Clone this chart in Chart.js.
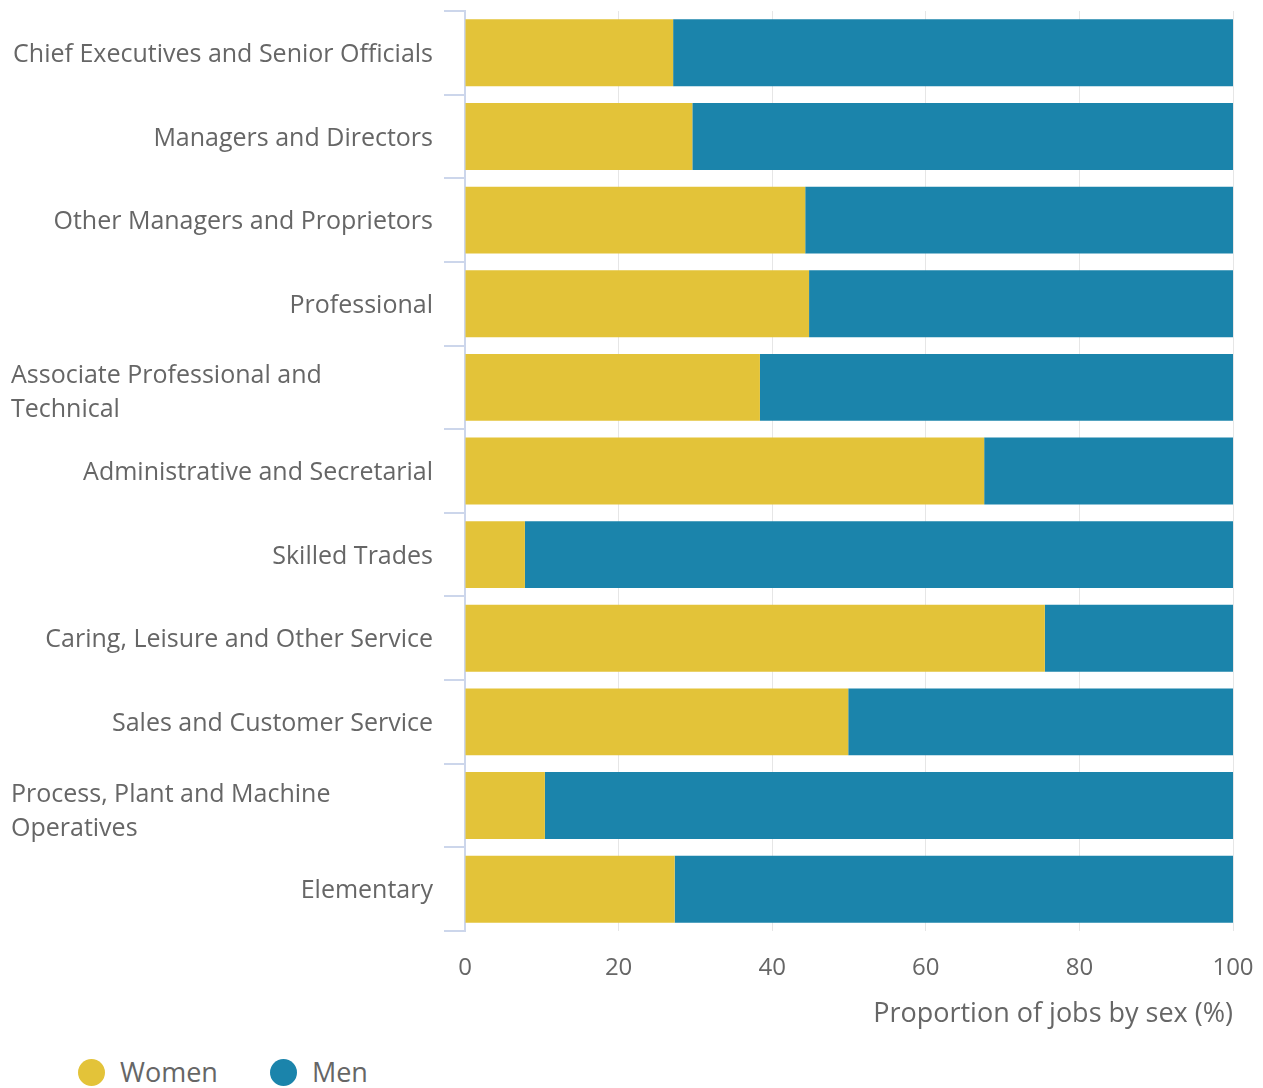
<!DOCTYPE html>
<html>
<head>
<meta charset="utf-8">
<script src="https://cdn.jsdelivr.net/npm/chart.js@4.4.1/dist/chart.umd.min.js"></script>
<style>
  html, body { margin: 0; padding: 0; background: #fff; overflow: hidden; }
  body { width: 1263px; height: 1088px; position: relative; font-family: "Open Sans", sans-serif; }
  #wrap { position: absolute; left: 0; top: 0; width: 1263px; height: 1045px; }
  #legend { position: absolute; left: 78px; top: 1056px; display: flex; align-items: center; }
  .leg-item { display: flex; align-items: center; margin-right: 52px; }
  .leg-dot { width: 27px; height: 27px; border-radius: 50%; margin-right: 15px; }
  .leg-text { font-size: 27px; color: #666; line-height: 32px; }
</style>
</head>
<body>
<div id="wrap"><canvas id="chart"></canvas></div>
<div id="legend"></div>
<script>
// Occupation groups (y axis)
const categories = [
  'Chief Executives and Senior Officials',
  'Managers and Directors',
  'Other Managers and Proprietors',
  'Professional',
  ['Associate Professional and', 'Technical'],
  'Administrative and Secretarial',
  'Skilled Trades',
  'Caring, Leisure and Other Service',
  'Sales and Customer Service',
  ['Process, Plant and Machine', 'Operatives'],
  'Elementary'
];

// Proportion of jobs by sex (%)
const womenShare = [27.1, 29.6, 44.3, 44.8, 38.4, 67.6, 7.8, 75.5, 49.9, 10.4, 27.3];
const menShare   = [72.9, 70.4, 55.7, 55.2, 61.6, 32.4, 92.2, 24.5, 50.1, 89.6, 72.7];

const seriesNames = ['Women', 'Men'];
const seriesColors = ['#e3c339', '#1b84ab'];

const xMin = 0, xMax = 100, xStep = 20;
const xTitle = 'Proportion of jobs by sex (%)';

const textColor = '#666666';
const font = 'Open Sans';

// Category labels drawn next to the axis: one-liners right aligned, wrapped ones left aligned
const categoryLabels = {
  id: 'categoryLabels',
  afterDraw(chart) {
    const y = chart.scales.y;
    const ctx = chart.ctx;
    ctx.save();
    ctx.font = `25px "${font}"`;
    ctx.fillStyle = textColor;
    ctx.textBaseline = 'middle';
    categories.forEach((label, i) => {
      const cy = y.getPixelForTick(i) + 2;
      if (Array.isArray(label)) {
        ctx.textAlign = 'left';
        const lh = 34;
        const start = cy + 4 - (label.length - 1) * lh / 2;
        label.forEach((line, j) => ctx.fillText(line, 11, start + j * lh));
      } else {
        ctx.textAlign = 'right';
        ctx.fillText(label, y.right - 32, cy);
      }
    });
    ctx.restore();
  }
};

const chart = new Chart(document.getElementById('chart'), {
  type: 'bar',
  data: {
    labels: categories,
    datasets: [
      { label: seriesNames[0], data: womenShare, backgroundColor: seriesColors[0] },
      { label: seriesNames[1], data: menShare, backgroundColor: seriesColors[1] }
    ]
  },
  options: {
    indexAxis: 'y',
    responsive: true,
    maintainAspectRatio: false,
    animation: false,
    barPercentage: 0.8,
    categoryPercentage: 1,
    layout: { padding: { left: 0, right: 30, top: 11, bottom: 0 } },
    plugins: {
      legend: { display: false },
      tooltip: { enabled: false }
    },
    scales: {
      x: {
        stacked: true,
        min: xMin,
        max: xMax,
        ticks: {
          stepSize: xStep,
          color: textColor,
          font: { family: font, size: 24 },
          padding: 3
        },
        grid: {
          color: '#e6e6e6',
          lineWidth: 1,
          drawTicks: true,
          tickLength: 20,
          tickColor: 'rgba(0,0,0,0)'
        },
        border: { display: false },
        title: {
          display: true,
          text: xTitle,
          align: 'end',
          color: textColor,
          font: { family: font, size: 27 },
          padding: { top: 0, bottom: 14 }
        },
        afterFit(scale) { scale.height = 114; }
      },
      y: {
        stacked: true,
        ticks: { display: false },
        grid: {
          offset: true,
          drawOnChartArea: false,
          drawTicks: true,
          tickLength: 21,
          color: '#ccd6eb',
          lineWidth: 2
        },
        border: { display: true, color: '#ccd6eb', width: 2 },
        afterFit(scale) { scale.width = 465; }
      }
    }
  },
  plugins: [categoryLabels]
});

// Legend below the chart
const legend = document.getElementById('legend');
seriesNames.forEach((name, i) => {
  const item = document.createElement('div');
  item.className = 'leg-item';
  item.innerHTML = `<span class="leg-dot" style="background:${seriesColors[i]}"></span><span class="leg-text">${name}</span>`;
  legend.appendChild(item);
});
</script>
</body>
</html>
